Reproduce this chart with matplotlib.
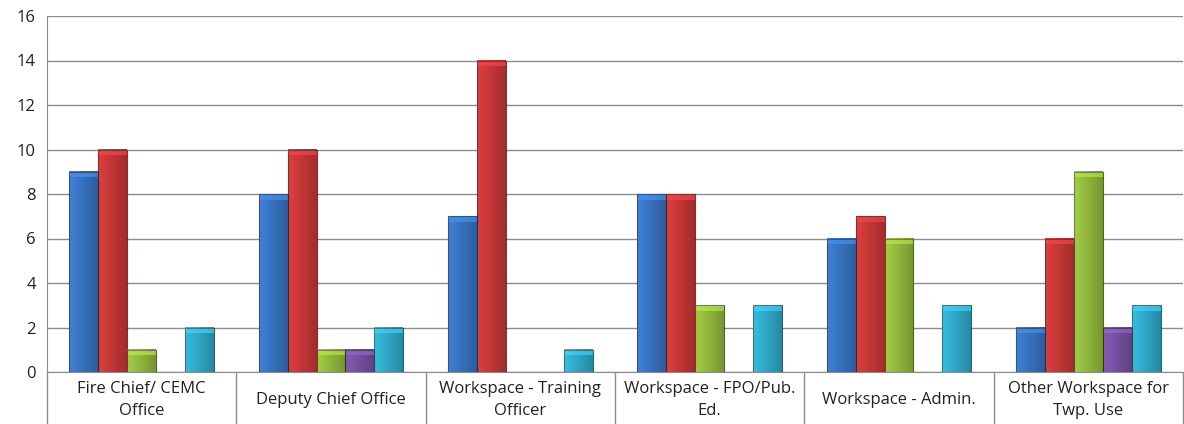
import numpy as np
import matplotlib.pyplot as plt
import matplotlib.colors as mcolors
from matplotlib.transforms import blended_transform_factory

# 카테고리 / 시리즈 데이터
categories = ['Fire Chief/ CEMC\nOffice', 'Deputy Chief Office', 'Workspace - Training\nOfficer',
              'Workspace - FPO/Pub.\nEd.', 'Workspace - Admin.', 'Other Workspace for\nTwp. Use']
series_blue = [9, 8, 7, 8, 6, 2]
series_red = [10, 10, 14, 8, 7, 6]
series_green = [1, 1, 0, 3, 6, 9]
series_purple = [0, 1, 0, 0, 0, 2]
series_cyan = [2, 2, 1, 3, 3, 3]
y_ticks = [0, 2, 4, 6, 8, 10, 12, 14, 16]

all_series = [series_blue, series_red, series_green, series_purple, series_cyan]
colors = ['#3a78c8', '#cf3a3a', '#98c040', '#7b55a8', '#33b0d0']

plt.rcParams['font.family'] = ['Open Sans', 'DejaVu Sans']

fig = plt.figure(figsize=(11.84, 4.24), dpi=100)
ax = fig.add_axes([47 / 1184, 52 / 424, 1136 / 1184, 356 / 424])

x = np.arange(len(categories))
width = 0.153
n = len(all_series)

for i, (vals, col) in enumerate(zip(all_series, colors)):
    offs = (i - (n - 1) / 2) * width
    bars = ax.bar(x + offs, vals, width, color=col, edgecolor=mcolors.to_rgba('black', 0.35),
                  linewidth=0.8, zorder=3)
    # 원통형 느낌의 그라데이션
    base = np.array(mcolors.to_rgb(col))
    g = np.linspace(0, 1, 64)
    shade = 1.08 - 0.30 * g
    grad = np.clip(base[None, :] * shade[:, None], 0, 1)[None, :, :]
    for b, v in zip(bars, vals):
        if v <= 0:
            continue
        ax.imshow(grad, extent=(b.get_x(), b.get_x() + b.get_width(), 0, v),
                  aspect='auto', zorder=3.5, interpolation='bilinear')
        # 상단 베벨
        top = np.clip(base * 1.25, 0, 1)
        ax.fill_between([b.get_x(), b.get_x() + b.get_width()], v - 0.25, v,
                        color=top, alpha=0.6, zorder=3.6, linewidth=0)
        ax.add_patch(plt.Rectangle((b.get_x(), 0), b.get_width(), v, fill=False,
                                   edgecolor=mcolors.to_rgba('black', 0.35), linewidth=0.8, zorder=3.7))

ax.set_xlim(-0.5, len(categories) - 0.5)
ax.set_ylim(0, 16)
ax.set_yticks(y_ticks)
ax.tick_params(axis='y', length=0, labelsize=12, pad=8, colors='#222222')
ax.yaxis.grid(True, color='#8c8c8c', linewidth=1.0, zorder=0)

ax.set_xticks([])
ax.set_xticks(np.arange(len(categories) + 1) - 0.5, minor=True)
ax.tick_params(axis='x', which='minor', length=38, width=1.0, color='#8c8c8c')
ax.set_xticklabels([], minor=True)

trans = blended_transform_factory(ax.transData, ax.transAxes)
for xi, lab in zip(x, categories):
    ax.text(xi, -28 / 356, lab, transform=trans, ha='center', va='center',
            fontsize=12, color='#222222', linespacing=1.55)

for s in ['top', 'right']:
    ax.spines[s].set_visible(False)
ax.spines['left'].set_color('#8c8c8c')
ax.spines['bottom'].set_color('#8c8c8c')

plt.savefig('out.png', dpi=100)
